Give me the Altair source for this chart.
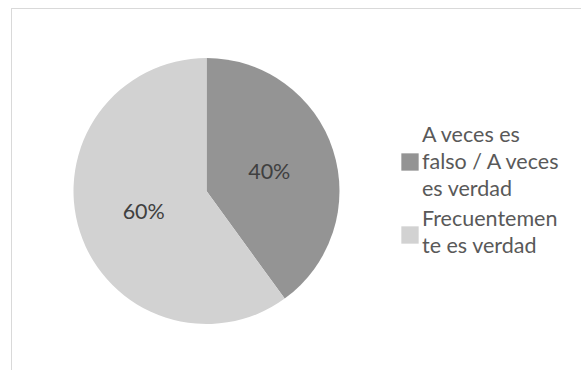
import altair as alt
import pandas as pd

categories = ["A veces es falso / A veces es verdad", "Frecuentemente es verdad"]
values = [40, 60]
slice_labels = ["40%", "60%"]
legend_lines = [["A veces es", "falso / A veces", "es verdad"], ["Frecuentemen", "te es verdad"]]
colors = ["#949494", "#d2d2d2"]

df = pd.DataFrame({
    "cat": categories,
    "value": values,
    "order": list(range(len(categories))),
    "label": slice_labels,
    "legend": ["\n".join(l) for l in legend_lines],
})

cx, cy, R = 206.5, 191, 133
FONT = "Lato"
FS = 21.5

color_scale = alt.Scale(domain=categories, range=colors)
theta = alt.Theta("value:Q", stack=True)
order = alt.Order("order:Q")

border = alt.Chart(df).mark_rect(filled=False, stroke="#d9d9d9", strokeWidth=1).encode(
    x=alt.value(11.5), y=alt.value(8.5), x2=alt.value(800), y2=alt.value(600)
)

pie = alt.Chart(df).mark_arc(outerRadius=R, x=cx, y=cy).encode(
    theta=theta, order=order,
    color=alt.Color("cat:N", scale=color_scale, legend=None),
)

labels = alt.Chart(df).mark_text(
    radius=66, x=cx, y=cy, dy=2, font=FONT, fontSize=FS, color="#404040"
).encode(theta=theta, order=order, text="label:N")

leg_sq = alt.Chart(df).mark_square(size=300, x=410, opacity=1).encode(
    y=alt.Y("cat:N", axis=None, scale=alt.Scale(domain=categories, range=[162, 235], padding=0)),
    color=alt.Color("cat:N", scale=color_scale, legend=None),
)

# first line of each wrapped legend label
leg_txt = alt.Chart(df).mark_text(
    x=422, align="left", baseline="middle", lineBreak="\n", lineHeight=27,
    font=FONT, fontSize=FS, color="#595959"
).encode(
    y=alt.Y("cat:N", axis=None, scale=alt.Scale(domain=categories, range=[136, 220], padding=0)),
    text="legend:N",
)

chart = alt.layer(border, pie, labels, leg_sq, leg_txt).resolve_scale(y="independent").properties(
    width=581, height=370, padding=0, autosize=alt.AutoSizeParams(type="none")
).configure_view(stroke=None)

chart.save("out.html", embed_options={"renderer": "svg", "actions": False})
